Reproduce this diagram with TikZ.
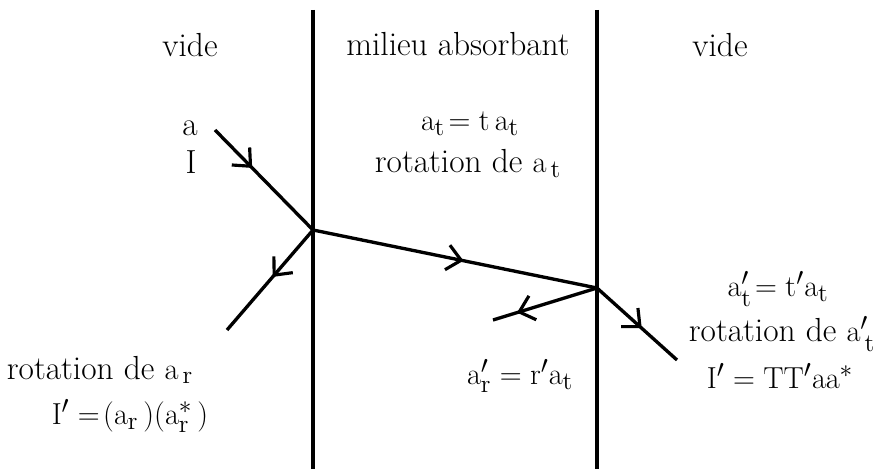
\documentclass[tikz,border=0pt]{standalone}
\usepackage{amsmath,amssymb}
\usepackage{xcolor}
\usepackage{tikz}
\usetikzlibrary{arrows.meta,decorations.markings,positioning,calc}

\begin{document}
\begin{tikzpicture}[every node/.style={font=\fontsize{19}{22}\selectfont},
    interface/.style={line width=1.9pt},
    ray/.style={line width=1.9pt, postaction={decorate},
        decoration={markings, mark=at position #1 with {\arrow{Straight Barb[length=2.8mm,width=5mm,line width=1.8pt]}}}},
    lbl/.style={inner sep=1pt}]
    \useasboundingbox (0,0) rectangle (17.54,9.38);

    % Interfaces
    \coordinate (i1top) at (6.26,9.18);
    \coordinate (i1bot) at (6.26,0);
    \coordinate (i2top) at (11.94,9.18);
    \coordinate (i2bot) at (11.94,0);
    \draw[interface] (i1top) -- (i1bot);
    \draw[interface] (i2top) -- (i2bot);

    % Ray points
    \coordinate (j1) at (6.26,4.78);
    \coordinate (j2) at (11.94,3.62);
    \coordinate (inc) at (4.30,6.78);
    \coordinate (refl) at (4.54,2.78);
    \coordinate (refl2) at (9.86,2.98);
    \coordinate (trans) at (13.54,2.18);

    % Region titles
    \node[lbl] (vide1) at (3.80,8.48) {vide};
    \node[lbl] (milieu) at (9.16,8.50) {milieu absorbant};
    \node[lbl] (vide2) at (14.40,8.48) {vide};

    % Incident wave
    \node[lbl] (ainc) at (3.80,6.82) {a};
    \node[lbl] (Iinc) at (3.82,6.14) {I};

    % Inside the medium
    \node[lbl] (at) at (9.40,6.90) {$\mathrm{a_t\!= t\,a_t}$};
    \node[lbl] (rott) at (9.36,6.12) {rotation de $\mathrm{a_{\,t}}$};
    \node[lbl] (arp) at (10.40,1.86) {$\mathrm{a'_r = r'a_t}$};

    % Transmitted side
    \node[lbl] (atp) at (15.56,3.60) {$\mathrm{a'_t\!= t'a_t}$};
    \node[lbl] (rottp) at (15.64,2.70) {rotation de $\mathrm{a'_{\,t}}$};
    \node[lbl] (Itr) at (15.60,1.86) {$\mathrm{I' = TT'aa^*}$};

    % Reflected side
    \node[lbl] (rotr) at (2.00,1.98) {rotation de $\mathrm{a_{\,r}}$};
    \node[lbl] (Iref) at (2.60,1.06) {$\mathrm{I' =\!(a_r\,)(a^*_r\,)}$};

    % Rays
    \draw[ray=0.38] (inc) -- (j1);
    \draw[ray=0.47] (j1) -- (refl);
    \draw[ray=0.53] (j1) -- (j2);
    \draw[ray=0.77] (j2) -- (refl2);
    \draw[ray=0.56] (j2) -- (trans);
\end{tikzpicture}
\end{document}
